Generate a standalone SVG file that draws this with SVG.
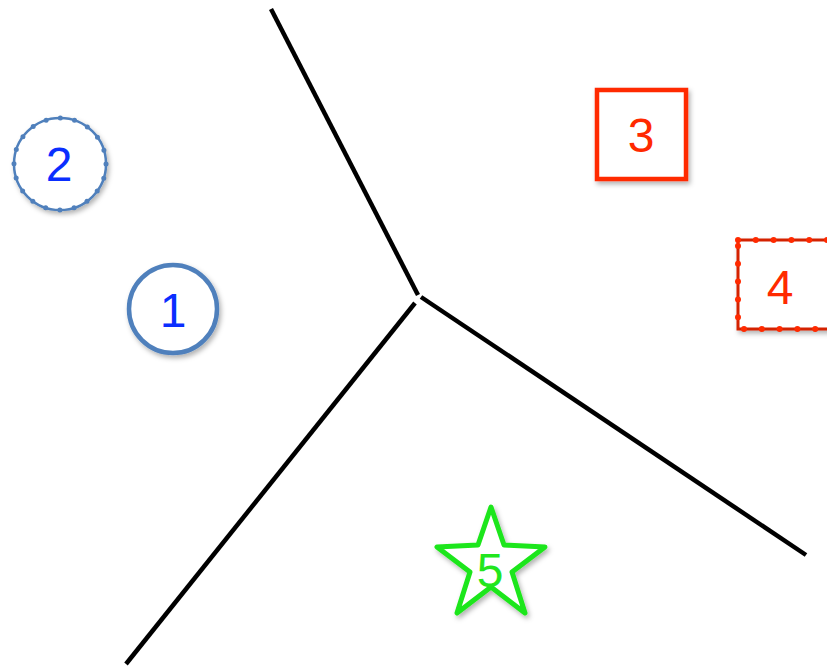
<svg xmlns="http://www.w3.org/2000/svg" width="827" height="669" viewBox="0 0 827 669">
<style>
.lbl{font-family:"Liberation Sans",Arial,sans-serif;font-size:48px;text-anchor:middle;dominant-baseline:central}
.blue{fill:#0a2eff}
.red{fill:#ff2a00}
.green{fill:#22e61e}
.edge{stroke:#000;stroke-width:4.5;fill:none}
</style>
<defs>
<filter id="sh" x="-20%" y="-20%" width="150%" height="150%">
<feDropShadow dx="2" dy="3" stdDeviation="2.5" flood-color="#000" flood-opacity="0.3"/>
</filter>
</defs>
<rect width="827" height="669" fill="#fff"/>
<g id="connectors">
<line class="edge" x1="271" y1="9" x2="418" y2="295"/>
<line class="edge" x1="415" y1="303" x2="126" y2="664"/>
<line class="edge" x1="421" y1="297" x2="806" y2="555"/>
</g>
<g id="node2">
<circle cx="60" cy="164" r="46" fill="#fff" stroke="#5080bc" stroke-width="2.5" filter="url(#sh)"/>
<circle cx="60" cy="164" r="46" fill="none" stroke="#5080bc" stroke-width="5" stroke-linecap="round" stroke-dasharray="0 14.45"/>
<text class="lbl blue" x="59" y="164">2</text>
</g>
<g id="node1">
<circle cx="173" cy="309" r="44" fill="#fff" stroke="#5080bc" stroke-width="4.5" filter="url(#sh)"/>
<text class="lbl blue" x="173" y="310">1</text>
</g>
<g id="node3">
<rect x="597" y="90" width="89" height="89" fill="#fff" stroke="#ff2a00" stroke-width="4.5" filter="url(#sh)"/>
<text class="lbl red" x="641" y="135">3</text>
</g>
<g id="node4">
<rect x="738" y="240" width="92" height="89" fill="#fff" stroke="#d42000" stroke-width="3" filter="url(#sh)"/>
<rect x="738" y="240" width="92" height="89" fill="none" stroke="#ff2a00" stroke-width="6" stroke-linecap="round" stroke-dasharray="0 17.8"/>
<text class="lbl red" x="780" y="287">4</text>
</g>
<g id="node5">
<polygon points="491,507 504,545 545,547 512,572 525,613 491,587 457,613 470,572 437,547 478,545" fill="#fff" stroke="#1ee61a" stroke-width="5" stroke-linejoin="round" filter="url(#sh)"/>
<text class="lbl green" x="490" y="570">5</text>
</g>
</svg>
